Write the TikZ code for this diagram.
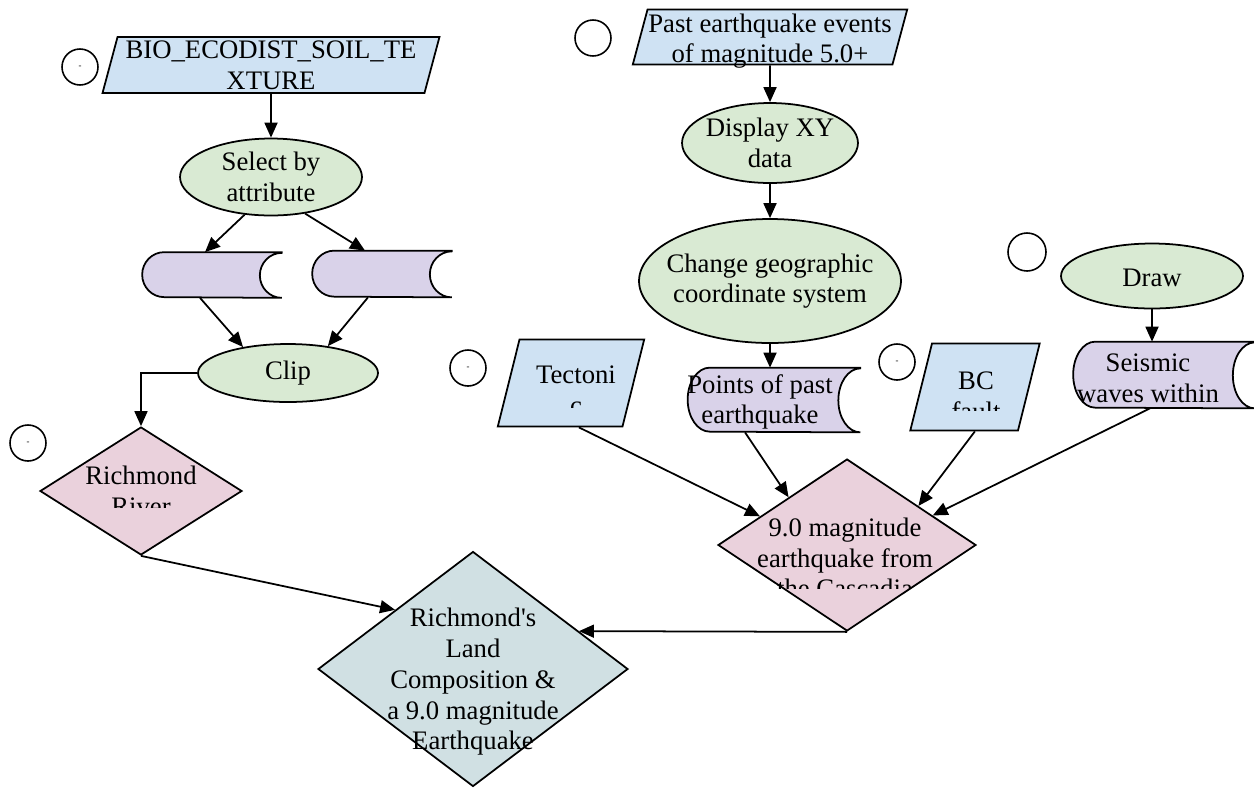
\documentclass[tikz,border=0pt]{standalone}
\usepackage{fontspec}
\setmainfont{Liberation Serif}
\usetikzlibrary{shapes.geometric, arrows.meta, calc, backgrounds}
\definecolor{inblue}{HTML}{CFE2F3}
\definecolor{opgreen}{HTML}{D9EAD3}
\definecolor{stpurple}{HTML}{D9D2E9}
\definecolor{dcpink}{HTML}{EAD1DC}
\definecolor{fincyan}{HTML}{D0E0E3}
\tikzset{txt/.style={align=center, font=\fontsize{15.2}{17.5}\selectfont, inner sep=0pt}}
\tikzset{inbox/.style={trapezium, trapezium left angle=75, trapezium right angle=105, draw, line width=1pt, fill=inblue, inner sep=0pt, text depth=0pt}}
\tikzset{opbox/.style={ellipse, draw, line width=1pt, fill=opgreen, inner sep=1pt}}
\tikzset{stbox/.style={rectangle, inner sep=0pt}}
\tikzset{dcbox/.style={diamond, draw, line width=1pt, fill=dcpink, inner sep=1pt}}
\tikzset{numcirc/.style={circle, draw, line width=0.9pt, minimum size=0.72cm, inner sep=0pt, font=\tiny}}
\tikzset{flow/.style={line width=1pt, -{Triangle[length=0.3cm,width=0.26cm]}}}
\newcommand{\storeoutline}[2]{%
  \begin{scope}[on background layer]
    \draw[line width=1pt, fill=stpurple] (#1.north east) -- ([xshift=0.44cm]#1.north west)
      arc[start angle=90, end angle=270, x radius=0.44cm, y radius=#2]
      -- (#1.south east) arc[start angle=270, end angle=90, x radius=0.44cm, y radius=#2] -- cycle;
  \end{scope}}

\begin{document}
\begin{tikzpicture}[x=0.02cm, y=-0.02cm]
  \useasboundingbox (0,0) rectangle (1254,789);
  % soil texture branch
  \node[numcirc] (c1) at (80,67) {-};
  \node[inbox, text width=6.14cm, text height=1.12cm] (bio) at (271,65) {};
  \node[txt] (bio-t) at (bio) {BIO\_ECODIST\_SOIL\_TE\\XTURE};
  \node[opbox, minimum width=3.64cm, minimum height=1.54cm] (sel) at (271,177) {};
  \node[txt] (sel-t) at (sel) {Select by\\attribute};
  \node[stbox, minimum width=2.78cm, minimum height=0.9cm] (sl) at (212,275) {};
  \storeoutline{sl}{0.45cm}
  \node[stbox, minimum width=2.78cm, minimum height=0.92cm] (sr) at (382,274) {};
  \storeoutline{sr}{0.46cm}
  \node[opbox, minimum width=3.6cm, minimum height=1.16cm] (clip) at (288,373) {};
  \node[txt] (clip-t) at (clip) {Clip};
  \node[numcirc] (c6) at (28,443) {-};
  \node[dcbox, minimum width=4.04cm, minimum height=2.56cm] (riv) at (141,491) {};
  \begin{scope}
    \clip (40,420) rectangle (242,507);
    \node[txt] (riv-t) at (riv) {Richmond\\River};
  \end{scope}

  % earthquake branch
  \node[numcirc] (c2) at (593,38) {};
  \node[inbox, text width=4.9cm, text height=1.1cm] (past) at (770,37) {};
  \node[txt] (past-t) at (770,41) {Past earthquake events\\of magnitude 5.0+};
  \node[opbox, minimum width=3.52cm, minimum height=1.6cm] (disp) at (770,143) {};
  \node[txt] (disp-t) at (disp) {Display XY\\data};
  \node[opbox, minimum width=5.24cm, minimum height=2.48cm] (chg) at (770,281) {};
  \node[txt] (chg-t) at (chg) {Change geographic\\coordinate system};
  \node[stbox, minimum width=3.44cm, minimum height=1.28cm] (pts) at (774,400) {};
  \storeoutline{pts}{0.64cm}
  \node[txt] (pts-t) at (760,402) {Points of past\\earthquake};
  \node[numcirc] (c3) at (468,368) {-};
  \node[inbox, trapezium left angle=76, trapezium right angle=104, text width=2.06cm, text height=1.74cm] (tec) at (571,383) {};
  \begin{scope}
    \clip (499,340) rectangle (644,407);
    \node[txt] (tec-t) at (576,390) {Tectoni\\c};
  \end{scope}
  \node[numcirc] (c4) at (897,362) {-};
  \node[inbox, trapezium left angle=76, trapezium right angle=104, text width=1.72cm, text height=1.74cm] (bc) at (975,387) {};
  \begin{scope}
    \clip (910,343) rectangle (1040,410);
    \node[txt] (bc-t) at (976,396) {BC\\fault};
  \end{scope}
  \node[numcirc, minimum size=0.76cm] (c5) at (1027,252) {};
  \node[opbox, minimum width=3.64cm, minimum height=1.3cm] (drw) at (1152,276) {};
  \node[txt] (drw-t) at (1152,278) {Draw};
  \node[stbox, minimum width=3.62cm, minimum height=1.32cm] (seis) at (1164,375) {};
  \storeoutline{seis}{0.66cm}
  \node[txt] (seis-t) at (1148,378) {Seismic\\waves within};
  \node[dcbox, minimum width=5.16cm, minimum height=3.44cm] (qk) at (847,545) {};
  \begin{scope}
    \clip (718,458) rectangle (977,588);
    \node[txt] (qk-t) at (845,558) {9.0 magnitude\\earthquake from\\the Cascadia};
  \end{scope}

  % result
  \node[dcbox, fill=fincyan, minimum width=6.2cm, minimum height=4.7cm] (fin) at (473,669) {};
  \node[txt] (fin-t) at (473,682) {Richmond{\textquotesingle}s\\Land\\Composition \&\\a 9.0 magnitude\\Earthquake};

  % connectors
  \draw[flow] (bio) -- (sel);
  \draw[flow] (sel.235) -- ([xshift=-0.14cm]sl.north);
  \draw[flow] (sel.-47) -- ([xshift=-0.34cm]sr.north);
  \draw[flow] ([xshift=-0.24cm]sl.south) -- (clip.150);
  \draw[flow] ([xshift=-0.28cm]sr.south) -- (clip.34);
  \draw[flow] (clip.west) -| (riv.north);
  \draw[flow] (riv.south) -- ($(fin.west)!0.5!(fin.north)$);
  \draw[flow] (past) -- (disp);
  \draw[flow] (disp) -- (chg);
  \draw[flow] (chg.south) -- (chg.south |- pts.north);
  \draw[flow] (drw.south) -- (drw.south |- seis.north);
  \draw[flow] ($(tec.bottom left corner)!0.65!(tec.bottom right corner)$) -- ($(qk.west)!0.33!(qk.north)$);
  \draw[flow] ([xshift=-0.58cm]pts.south) -- ($(qk.west)!0.55!(qk.north)$);
  \draw[flow] ($(bc.bottom left corner)!0.6!(bc.bottom right corner)$) -- ($(qk.north)!0.55!(qk.east)$);
  \draw[flow] ([xshift=-0.28cm]seis.south) -- ($(qk.north)!0.66!(qk.east)$);
  \draw[flow] (qk.south) -- ($(fin.north)!0.68!(fin.east)$);
\end{tikzpicture}
\end{document}
